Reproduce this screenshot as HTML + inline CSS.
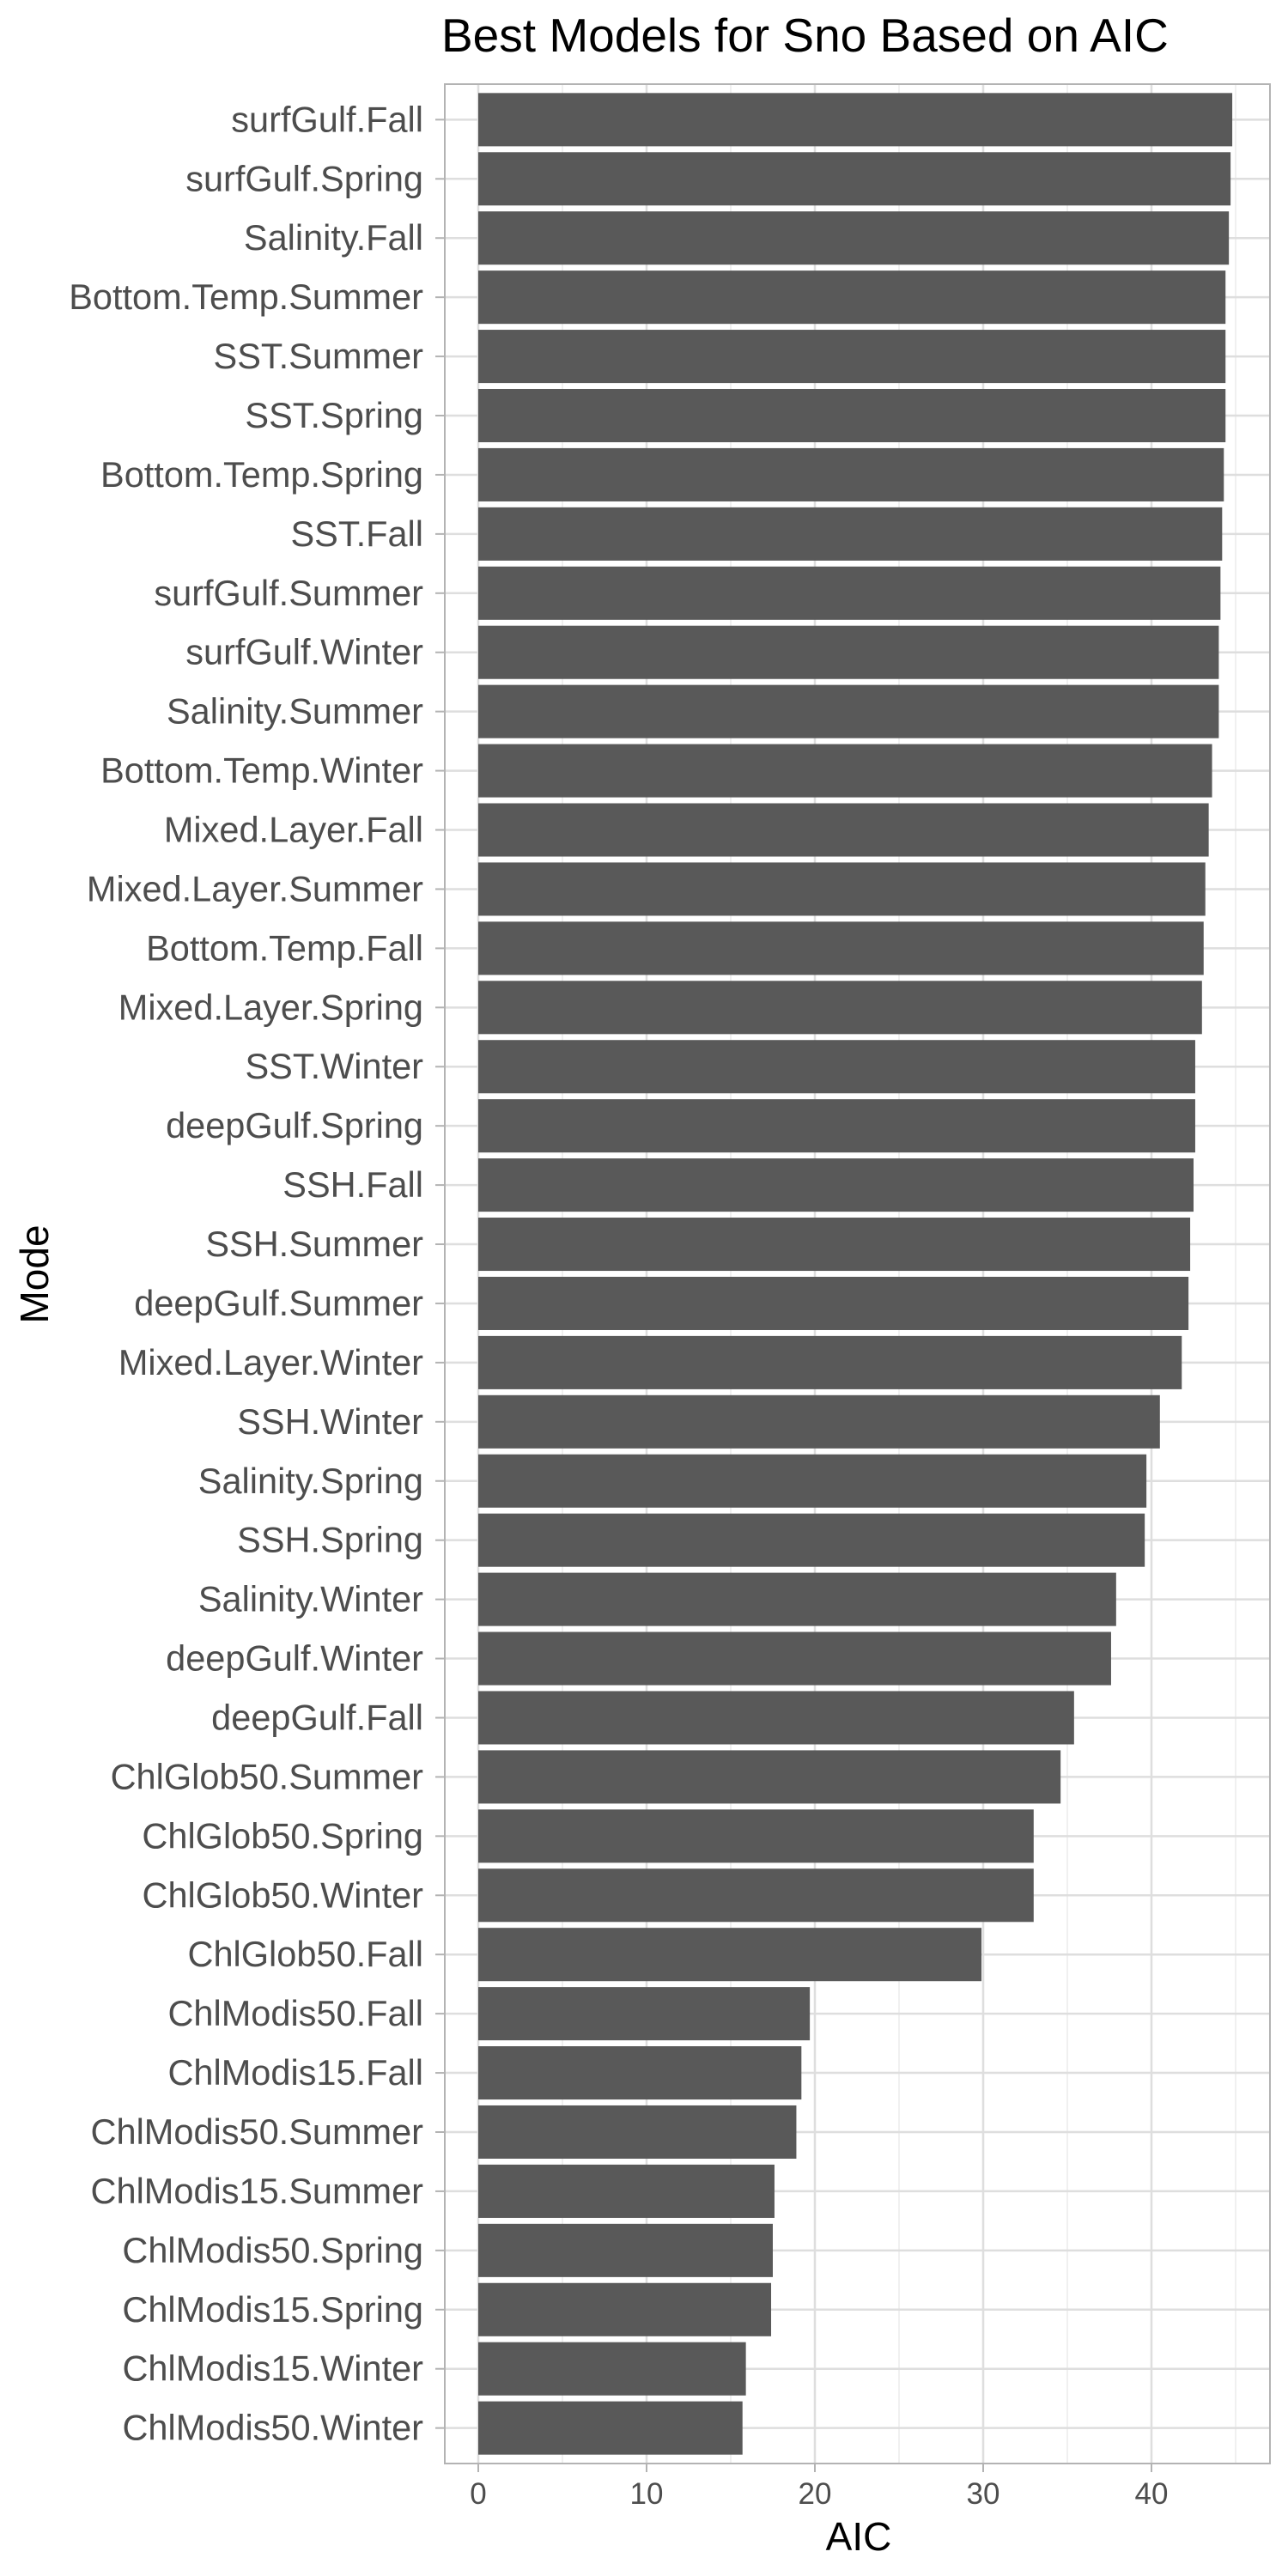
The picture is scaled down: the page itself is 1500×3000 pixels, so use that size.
<!DOCTYPE html>
<html><head><meta charset="utf-8"><style>
html,body{margin:0;padding:0;background:#fff;}
svg{display:block;font-family:"Liberation Sans",Arial,sans-serif;}
</style></head><body>
<svg id="chart" width="1500" height="3000" viewBox="0 0 1500 3000">
<text x="514" y="60" font-size="55" fill="#000">Best Models for Sno Based on AIC</text>
<g id="grid"></g>
<g id="bars"></g>
<g id="axes"></g>
<rect x="518" y="98" width="961" height="2771" fill="none" stroke="#b3b3b3" stroke-width="2"/>
<text x="1000" y="2970" font-size="46" text-anchor="middle" fill="#000">AIC</text>
<text transform="translate(56,1484) rotate(-90)" font-size="46" text-anchor="middle" fill="#000">Mode</text>
</svg>
<script>
const categories = ["surfGulf.Fall","surfGulf.Spring","Salinity.Fall","Bottom.Temp.Summer","SST.Summer","SST.Spring","Bottom.Temp.Spring","SST.Fall","surfGulf.Summer","surfGulf.Winter","Salinity.Summer","Bottom.Temp.Winter","Mixed.Layer.Fall","Mixed.Layer.Summer","Bottom.Temp.Fall","Mixed.Layer.Spring","SST.Winter","deepGulf.Spring","SSH.Fall","SSH.Summer","deepGulf.Summer","Mixed.Layer.Winter","SSH.Winter","Salinity.Spring","SSH.Spring","Salinity.Winter","deepGulf.Winter","deepGulf.Fall","ChlGlob50.Summer","ChlGlob50.Spring","ChlGlob50.Winter","ChlGlob50.Fall","ChlModis50.Fall","ChlModis15.Fall","ChlModis50.Summer","ChlModis15.Summer","ChlModis50.Spring","ChlModis15.Spring","ChlModis15.Winter","ChlModis50.Winter"];
const aicValues = [44.8,44.7,44.6,44.4,44.4,44.4,44.3,44.2,44.1,44.0,44.0,43.6,43.4,43.2,43.1,43.0,42.6,42.6,42.5,42.3,42.2,41.8,40.5,39.7,39.6,37.9,37.6,35.4,34.6,33.0,33.0,29.9,19.7,19.2,18.9,17.6,17.5,17.4,15.9,15.7];
const xTicks = [0,10,20,30,40];
const xMinor = [5,15,25,35,45];

const NS = "http://www.w3.org/2000/svg";
const panelL = 518, panelR = 1479, panelT = 98, panelB = 2869;
const x0 = 557, unit = 19.6;
const xs = v => x0 + v * unit;
const step = (panelB - panelT) / (categories.length - 1 + 1.2);
const ys = i => panelT + step * (0.6 + i);
const barH = step * 0.9;
function mk(tag, attrs, parent){const e=document.createElementNS(NS,tag);for(const k in attrs)e.setAttribute(k,attrs[k]);parent.appendChild(e);return e;}
const grid = document.getElementById('grid'), bars = document.getElementById('bars'), axes = document.getElementById('axes');

xMinor.forEach(v => {
  const l = mk('line',{x1:xs(v),x2:xs(v),y1:panelT,y2:panelB,stroke:'#ebebeb','stroke-width':1.5},grid);
  
  
});
xTicks.forEach(v => {
  const l = mk('line',{x1:xs(v),x2:xs(v),y1:panelT,y2:panelB,stroke:'#dedede','stroke-width':2.5},grid);
  
  
  const t = mk('line',{x1:xs(v),x2:xs(v),y1:panelB,y2:panelB+10,stroke:'#b3b3b3','stroke-width':2},axes);
  
  
  const tx = mk('text',{x:xs(v),y:panelB+47,'font-size':35,'text-anchor':'middle',fill:'#4d4d4d'},axes);
  tx.textContent = v;
  
  
});
categories.forEach((c,i) => {
  const y = ys(i);
  const g = mk('line',{x1:panelL,x2:panelR,y1:y,y2:y,stroke:'#dedede','stroke-width':2.5},grid);
  
  
  const r = mk('rect',{x:xs(0),y:y-barH/2,width:xs(aicValues[i])-xs(0),height:barH,fill:'#595959'},bars);
  
  
  const t = mk('line',{x1:panelL-11,x2:panelL,y1:y,y2:y,stroke:'#b3b3b3','stroke-width':2},axes);
  
  
  const tx = mk('text',{x:panelL-25,y:y+14,'font-size':41.5,'text-anchor':'end',fill:'#4d4d4d'},axes);
  tx.textContent = c;
  
  
});
</script>
</body></html>
